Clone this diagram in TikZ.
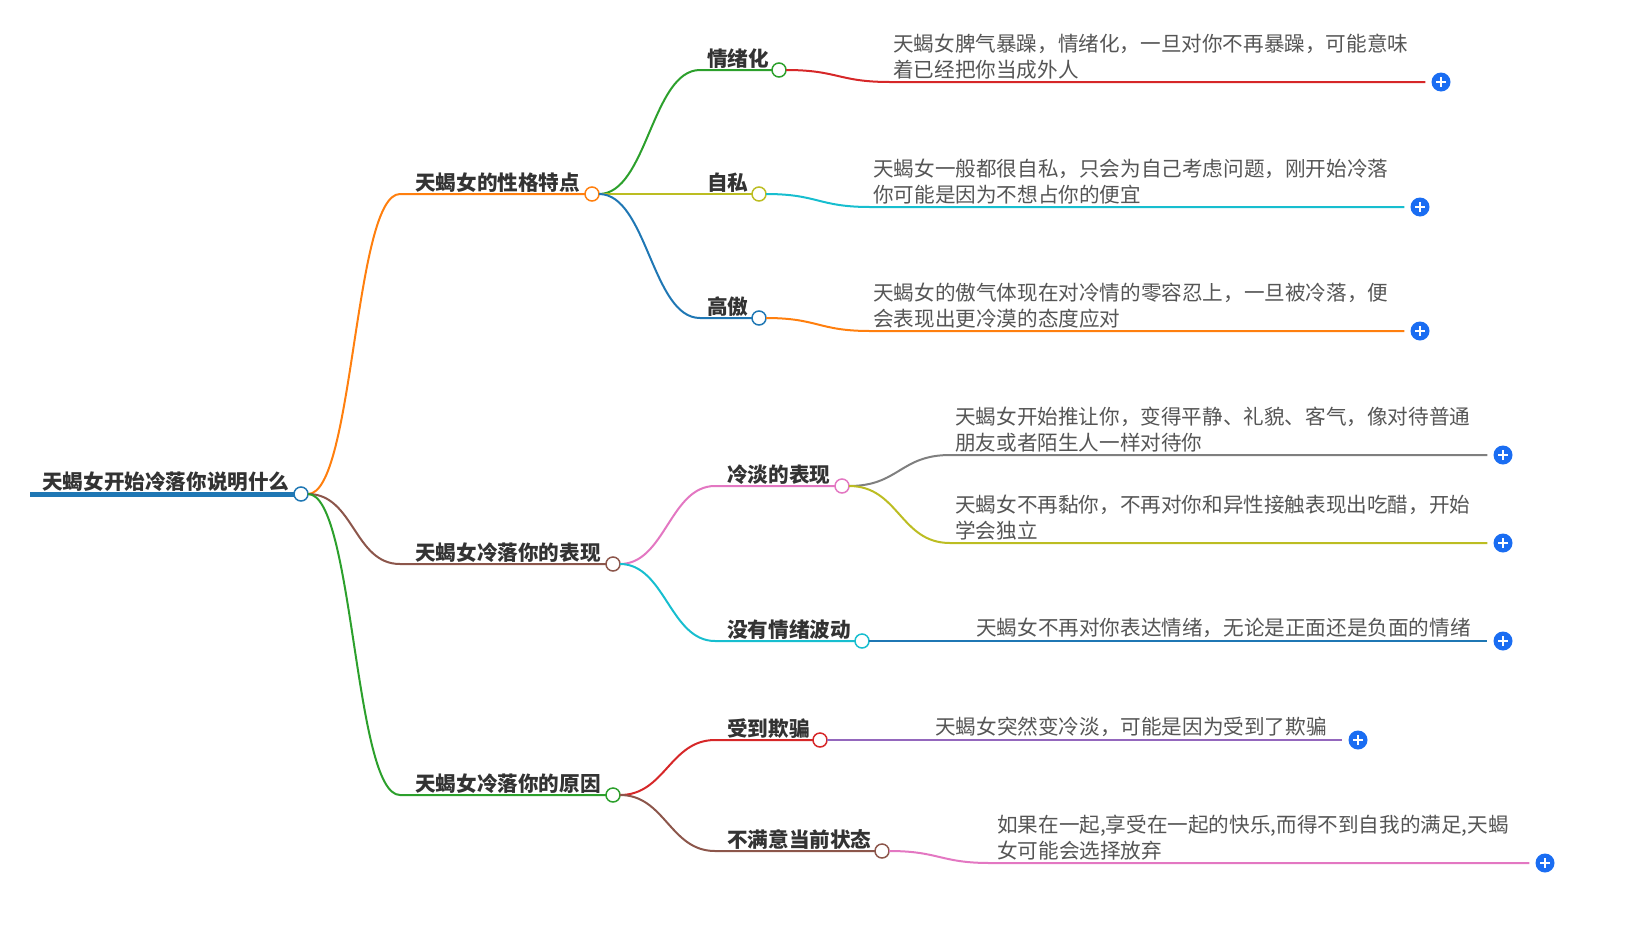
\documentclass[tikz,border=0pt]{standalone}
\usepackage{fontspec}
\setmainfont{Noto Sans CJK SC}
\definecolor{mmblue}{HTML}{1F77B4}
\definecolor{mmorange}{HTML}{FF7F0E}
\definecolor{mmgreen}{HTML}{2CA02C}
\definecolor{mmred}{HTML}{D62728}
\definecolor{mmpurple}{HTML}{9467BD}
\definecolor{mmbrown}{HTML}{8C564B}
\definecolor{mmpink}{HTML}{E377C2}
\definecolor{mmgray}{HTML}{7F7F7F}
\definecolor{mmolive}{HTML}{BCBD22}
\definecolor{mmcyan}{HTML}{17BECF}
\definecolor{plusblue}{HTML}{1A6DF2}
\definecolor{labelgray}{HTML}{333333}
\definecolor{leafgray}{HTML}{555555}
\begin{document}
\begin{tikzpicture}[
    x = 1pt,
    y = -1pt,
    label/.style = {anchor=base west, inner sep=0pt, text=labelgray,
              font=\bfseries\fontsize{20.6}{24}\selectfont},
    leaf/.style = {anchor=south west, inner sep=0pt, align=left, text=leafgray,
              font=\fontsize{20.6}{26}\selectfont},
    dot/.style = {circle, draw, fill=white, line width=1.5pt, minimum size=14pt,
              inner sep=0pt, outer sep=0pt},
    plus/.style = {circle, fill=plusblue, minimum size=19pt, inner sep=0pt,
              path picture={
                \draw[white, line width=2pt]
                  ([xshift=-5pt]path picture bounding box.center) --
                  ([xshift=5pt]path picture bounding box.center);
                \draw[white, line width=2pt]
                  ([yshift=-5pt]path picture bounding box.center) --
                  ([yshift=5pt]path picture bounding box.center);}},
    link/.style = {line width=2pt},
    ]

\useasboundingbox (0,0) rectangle (1630,927);

% root
\coordinate (l_root) at (30,494);
\node[dot, draw=mmblue] (c_root) at (301,494){};
\draw [mmblue, line width=5pt] (l_root) -- (c_root.west);
\node[label] (t_root) at (42,489){天蝎女开始冷落你说明什么};

% first level
\coordinate (l_traits) at (400,194);
\coordinate (l_shows) at (400,564);
\coordinate (l_causes) at (400,795);
\node[dot, draw=mmorange] (c_traits) at (592,194){};
\node[dot, draw=mmbrown] (c_shows) at (613,564){};
\node[dot, draw=mmgreen] (c_causes) at (613,795){};
\draw [link, mmorange] (c_root.east) .. controls +(46,0) and +(-46,0) .. (l_traits) -- (c_traits.west);
\draw [link, mmbrown] (c_root.east) .. controls +(46,0) and +(-46,0) .. (l_shows) -- (c_shows.west);
\draw [link, mmgreen] (c_root.east) .. controls +(46,0) and +(-46,0) .. (l_causes) -- (c_causes.west);
\node[label] (t_traits) at (415,190){天蝎女的性格特点};
\node[label] (t_shows) at (415,560){天蝎女冷落你的表现};
\node[label] (t_causes) at (415,791){天蝎女冷落你的原因};

% second level
\coordinate (l_mood) at (700,70);
\coordinate (l_self) at (700,194);
\coordinate (l_proud) at (700,318);
\coordinate (l_cold) at (715,486);
\coordinate (l_calm) at (715,641);
\coordinate (l_lied) at (715,740);
\coordinate (l_unsat) at (715,851);
\node[dot, draw=mmgreen] (c_mood) at (779,70){};
\node[dot, draw=mmolive] (c_self) at (759,194){};
\node[dot, draw=mmblue] (c_proud) at (759,318){};
\node[dot, draw=mmpink] (c_cold) at (842,486){};
\node[dot, draw=mmcyan] (c_calm) at (862,641){};
\node[dot, draw=mmred] (c_lied) at (820,740){};
\node[dot, draw=mmbrown] (c_unsat) at (882,851){};
\draw [link, mmgreen] (c_traits.east) .. controls +(48,0) and +(-48,0) .. (l_mood) -- (c_mood.west);
\draw [link, mmolive] (c_traits.east) -- (c_self.west);
\draw [link, mmblue] (c_traits.east) .. controls +(48,0) and +(-48,0) .. (l_proud) -- (c_proud.west);
\draw [link, mmpink] (c_shows.east) .. controls +(45,0) and +(-45,0) .. (l_cold) -- (c_cold.west);
\draw [link, mmcyan] (c_shows.east) .. controls +(45,0) and +(-45,0) .. (l_calm) -- (c_calm.west);
\draw [link, mmred] (c_causes.east) .. controls +(45,0) and +(-45,0) .. (l_lied) -- (c_lied.west);
\draw [link, mmbrown] (c_causes.east) .. controls +(45,0) and +(-45,0) .. (l_unsat) -- (c_unsat.west);
\node[label] (t_mood) at (707,66){情绪化};
\node[label] (t_self) at (707,190){自私};
\node[label] (t_proud) at (707,314){高傲};
\node[label] (t_cold) at (727,482){冷淡的表现};
\node[label] (t_calm) at (727,637){没有情绪波动};
\node[label] (t_lied) at (727,736){受到欺骗};
\node[label] (t_unsat) at (727,847){不满意当前状态};

% leaves
\coordinate (l_mood_1) at (890,82);
\coordinate (l_self_1) at (870,207);
\coordinate (l_proud_1) at (870,331);
\coordinate (l_cold_1) at (950,455);
\coordinate (l_cold_2) at (950,543);
\coordinate (l_unsat_1) at (990,863);
\node[plus] (p_mood_1) at (1441,82){};
\node[plus] (p_self_1) at (1420,207){};
\node[plus] (p_proud_1) at (1420,331){};
\node[plus] (p_cold_1) at (1503,455){};
\node[plus] (p_cold_2) at (1503,543){};
\node[plus] (p_calm_1) at (1503,641){};
\node[plus] (p_lied_1) at (1358,740){};
\node[plus] (p_unsat_1) at (1545,863){};
\draw [link, mmred] (c_mood.east) .. controls +(52,0) and +(-52,0) .. (l_mood_1) -- ([xshift=-6pt]p_mood_1.west);
\draw [link, mmcyan] (c_self.east) .. controls +(52,0) and +(-52,0) .. (l_self_1) -- ([xshift=-6pt]p_self_1.west);
\draw [link, mmorange] (c_proud.east) .. controls +(52,0) and +(-52,0) .. (l_proud_1) -- ([xshift=-6pt]p_proud_1.west);
\draw [link, mmgray] (c_cold.east) .. controls +(50,0) and +(-50,0) .. (l_cold_1) -- ([xshift=-6pt]p_cold_1.west);
\draw [link, mmolive] (c_cold.east) .. controls +(50,0) and +(-50,0) .. (l_cold_2) -- ([xshift=-6pt]p_cold_2.west);
\draw [link, mmblue] (c_calm.east) -- ([xshift=-6pt]p_calm_1.west);
\draw [link, mmpurple] (c_lied.east) -- ([xshift=-6pt]p_lied_1.west);
\draw [link, mmpink] (c_unsat.east) .. controls +(50,0) and +(-50,0) .. (l_unsat_1) -- ([xshift=-6pt]p_unsat_1.west);
\node[leaf] (t_mood_1) at (893,79){天蝎女脾气暴躁，情绪化，一旦对你不再暴躁，可能意味\\着已经把你当成外人};
\node[leaf] (t_self_1) at (873,204){天蝎女一般都很自私，只会为自己考虑问题，刚开始冷落\\你可能是因为不想占你的便宜};
\node[leaf] (t_proud_1) at (873,328){天蝎女的傲气体现在对冷情的零容忍上，一旦被冷落，便\\会表现出更冷漠的态度应对};
\node[leaf] (t_cold_1) at (955,452){天蝎女开始推让你，变得平静、礼貌、客气，像对待普通\\朋友或者陌生人一样对待你};
\node[leaf] (t_cold_2) at (955,540){天蝎女不再黏你，不再对你和异性接触表现出吃醋，开始\\学会独立};
\node[leaf] (t_calm_1) at (976,638){天蝎女不再对你表达情绪，无论是正面还是负面的情绪};
\node[leaf] (t_lied_1) at (935,737){天蝎女突然变冷淡，可能是因为受到了欺骗};
\node[leaf] (t_unsat_1) at (997,860){如果在一起,享受在一起的快乐,而得不到自我的满足,天蝎\\女可能会选择放弃};

\end{tikzpicture}
\end{document}
